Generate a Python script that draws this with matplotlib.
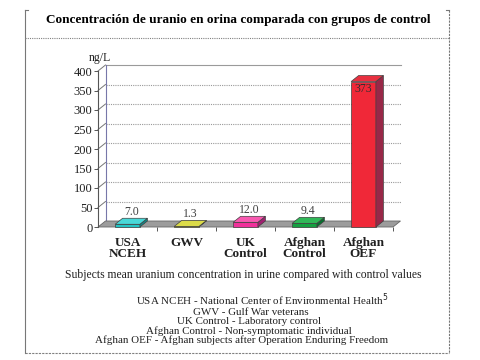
import matplotlib
matplotlib.use("Agg")
import matplotlib.pyplot as plt
from matplotlib.patches import Polygon
from matplotlib.lines import Line2D

# ---- data ----
categories = ["USA\nNCEH", "GWV", "UK\nControl", "Afghan\nControl", "Afghan\nOEF"]
values = [7.0, 1.3, 12.0, 9.4, 373]
value_labels = ["7.0", "1.3", "12.0", "9.4", "373"]
yticks = [0, 50, 100, 150, 200, 250, 300, 350, 400]
title = "Concentración de uranio en orina comparada con grupos de control"
caption = "Subjects mean uranium concentration in urine compared with control values"
legend_lines = [
    "USA NCEH - National Center of Environmental Health$^{5}$",
    "GWV - Gulf War veterans",
    "UK Control - Laboratory control",
    "Afghan Control - Non-symptomatic individual",
    "Afghan OEF - Afghan subjects after Operation Enduring Freedom",
]

# ---- style ----
front_colors = ["#22C4C4", "#C8C828", "#F0309A", "#14A040", "#F02838"]
top_colors = ["#48D8D8", "#DCDC48", "#F858B0", "#30B858", "#E83040"]
side_colors = ["#108888", "#909018", "#A02070", "#087030", "#982848"]
SERIF = "Liberation Serif"

W, H = 480, 360
fig = plt.figure(figsize=(W / 100, H / 100), dpi=100)

def fx(px):
    return px / W

def fy(py):
    return 1 - py / H

# chart axes: x from -0.5..4.5 -> px 98..393, y 0..400 -> px 227..71
ax = fig.add_axes([fx(98), fy(227), fx(393) - fx(98), (227 - 71) / H])
ax.set_xlim(-0.5, 4.5)
ax.set_ylim(0, 400)
for s in ["top", "right", "bottom"]:
    ax.spines[s].set_visible(False)
ax.spines["left"].set_color("#555555")
ax.spines["left"].set_linewidth(0.8)
ax.set_facecolor("none")

DX = 7.5 / 59.0
DY = 6 * 400 / 156.0
BW = 0.42

# back wall grid
xl, xr = -0.5, 4.5
for v in yticks[1:]:
    ax.plot([xl + DX, xr + DX], [v + DY, v + DY], color="#9a9a9a", lw=0.8,
            ls=(0, (1, 1)) if v != 400 else "-", clip_on=False, zorder=1)
    ax.plot([xl, xl + DX], [v, v + DY], color="#777777", lw=0.7, clip_on=False, zorder=1)
ax.plot([xl + DX, xl + DX], [DY, 400 + DY], color="#7777aa", lw=0.8, clip_on=False, zorder=1)

# floor
floor = Polygon([(xl, 0), (xr, 0), (xr + DX, DY), (xl + DX, DY)], closed=True,
                facecolor="#9c9c9c", edgecolor="#666666", lw=0.6, clip_on=False, zorder=2)
ax.add_patch(floor)

# bars
xs = list(range(len(values)))
ax.bar(xs, values, width=BW, color=front_colors, edgecolor="#404040", lw=0.5, zorder=4,
       clip_on=False)
for i, v in enumerate(values):
    x0, x1 = i - BW / 2, i + BW / 2
    top = Polygon([(x0, v), (x1, v), (x1 + DX, v + DY), (x0 + DX, v + DY)], closed=True,
                  facecolor=top_colors[i], edgecolor="#404040", lw=0.5, zorder=4, clip_on=False)
    side = Polygon([(x1, 0), (x1 + DX, DY), (x1 + DX, v + DY), (x1, v)], closed=True,
                   facecolor=side_colors[i], edgecolor="#404040", lw=0.5, zorder=4, clip_on=False)
    ax.add_patch(side)
    ax.add_patch(top)
    if v > 100:
        ax.text(i, v - 3, value_labels[i], ha="center", va="top", fontsize=8.5,
                family=SERIF, color="#303030", zorder=6)
    else:
        ax.text(i + DX / 2, v + DY + 1, value_labels[i], ha="center", va="bottom", fontsize=8.5,
                family=SERIF, color="#404040", zorder=6)

# ticks
ax.set_yticks(yticks)
ax.set_yticklabels([str(t) for t in yticks], family=SERIF, fontsize=9, color="#202020")
ax.tick_params(axis="y", length=3, width=0.7, color="#555555", pad=1)
ax.set_xticks([0.5, 1.5, 2.5, 3.5, 4.5])
ax.set_xticklabels([])
ax.tick_params(axis="x", length=3, width=0.7, color="#555555", direction="out")
ax.set_xticks(xs, minor=True)
ax.set_xticklabels(categories, minor=True, family=SERIF, fontsize=9.5,
                   fontweight="bold", color="#202020", linespacing=0.9)
ax.tick_params(axis="x", which="minor", length=0, pad=7)

# texts
fig.text(fx(238), fy(20), title, ha="center", va="center", family=SERIF,
         fontsize=9.5, fontweight="bold", color="black")
fig.text(fx(100), fy(58), "ng/L", ha="center", va="center", family=SERIF,
         fontsize=8.5, color="#202020")
fig.text(fx(243), fy(275), caption, ha="center", va="center", family=SERIF,
         fontsize=8.4, color="#202020")
line_y = [305, 315, 324.5, 334, 343]
line_x = [262, 251, 249, 249, 242]
for t, lx, ly in zip(legend_lines, line_x, line_y):
    fig.text(fx(lx), fy(ly), t, ha="center", va="baseline", family=SERIF,
             fontsize=7.9, color="#202020")

# frame
fc = "#777777"
fig.add_artist(Line2D([fx(25), fx(25)], [fy(10), fy(353)], color=fc, lw=0.8))
fig.add_artist(Line2D([fx(449), fx(449)], [fy(10), fy(353)], color=fc, lw=0.8,
                      ls=(0, (2, 1))))
fig.add_artist(Line2D([fx(25), fx(28)], [fy(10), fy(10)], color=fc, lw=0.8))
fig.add_artist(Line2D([fx(446), fx(449)], [fy(10), fy(10)], color=fc, lw=0.8))
fig.add_artist(Line2D([fx(25), fx(449)], [fy(38), fy(38)], color="#808080", lw=0.8,
                      ls=(0, (1, 1))))
fig.add_artist(Line2D([fx(25), fx(449)], [fy(353), fy(353)], color="#808080", lw=0.8,
                      ls=(0, (2, 1))))

fig.savefig("out.png", dpi=100)
